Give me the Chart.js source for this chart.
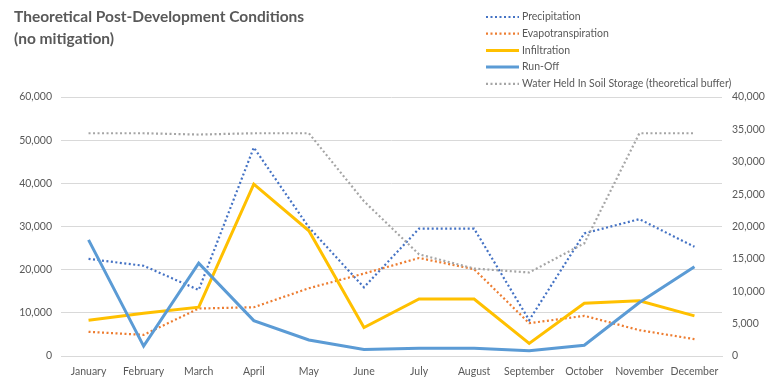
<!DOCTYPE html>
<html>
<head>
<meta charset="utf-8">
<script src="https://cdn.jsdelivr.net/npm/chart.js"></script>
<style>
  html, body { margin: 0; padding: 0; background: #fff; }
  #wrap { width: 769px; height: 378px; position: relative; }
</style>
</head>
<body>
<div id="wrap"><canvas id="myChart"></canvas></div>
<script>

    const months = ['January', 'February', 'March', 'April', 'May', 'June',
                    'July', 'August', 'September', 'October', 'November', 'December'];

    const precipitation      = [22500, 20900, 15300, 48300, 29800, 15900, 29500, 29500, 8300, 28400, 31700, 25300];
    const evapotranspiration = [5600, 4900, 11000, 11300, 15700, 19100, 22700, 20100, 7600, 9300, 6000, 3900];
    const infiltration       = [8300, 9900, 11300, 39800, 29000, 6600, 13200, 13200, 2900, 12200, 12800, 9300];
    const runOff             = [26900, 2300, 21500, 8200, 3700, 1500, 1800, 1800, 1200, 2500, 12400, 20700];
    // plotted against the right-hand axis
    const soilStorage        = [34400, 34400, 34200, 34400, 34400, 23900, 15700, 13500, 12900, 17400, 34400, 34400];

    const leftMax = 60000, leftStep = 10000;
    const rightMax = 40000, rightStep = 5000;

    const fontName = 'Lato, "Open Sans", sans-serif';
    const textGrey = '#595959';

    const dotted = [2, 2.5];

    const data = {
        labels: months,
        datasets: [
            { label: 'Precipitation', data: precipitation, borderColor: '#4472C4', borderWidth: 2.2, borderDash: dotted, yAxisID: 'y', order: 5 },
            { label: 'Evapotranspiration', data: evapotranspiration, borderColor: '#ED7D31', borderWidth: 2.2, borderDash: dotted, yAxisID: 'y', order: 4 },
            { label: 'Infiltration', data: infiltration, borderColor: '#FFC000', borderWidth: 3, yAxisID: 'y', order: 3 },
            { label: 'Run-Off', data: runOff, borderColor: '#5B9BD5', borderWidth: 3, yAxisID: 'y', order: 2 },
            { label: 'Water Held In Soil Storage (theoretical buffer)', data: soilStorage, borderColor: '#A5A5A5', borderWidth: 2.2, borderDash: dotted, yAxisID: 'y1', order: 1 }
        ]
    };

    // title and the stacked legend in the top corners
    const headings = {
        id: 'headings',
        afterDraw(chart) {
            const ctx = chart.ctx;
            ctx.save();
            ctx.fillStyle = textGrey;
            ctx.font = 'bold 15.5px ' + fontName;
            ctx.textAlign = 'left';
            ctx.textBaseline = 'middle';
            ctx.fillText('Theoretical Post-Development Conditions', 14, 17);
            ctx.fillText('(no mitigation)', 14, 39);

            ctx.font = '10.5px ' + fontName;
            chart.data.datasets.forEach((ds, i) => {
                const y = 17 + i * 16.7;
                ctx.beginPath();
                ctx.strokeStyle = ds.borderColor;
                ctx.lineWidth = ds.borderWidth;
                ctx.setLineDash(ds.borderDash || []);
                ctx.moveTo(486, y);
                ctx.lineTo(519, y);
                ctx.stroke();
                ctx.setLineDash([]);
                ctx.fillStyle = textGrey;
                ctx.fillText(ds.label, 522, y);
            });
            ctx.restore();
        }
    };

    const tickFont = { family: fontName, size: 10.5 };

    const config = {
        type: 'line',
        data,
        options: {
            responsive: true,
            maintainAspectRatio: false,
            animation: false,
            layout: { padding: { top: 97, left: 0, right: 0, bottom: 0 } },
            elements: {
                line: { tension: 0, borderCapStyle: 'butt', fill: false },
                point: { radius: 0, hoverRadius: 0 }
            },
            plugins: {
                legend: { display: false },
                title: { display: false },
                tooltip: { enabled: false }
            },
            scales: {
                x: {
                    offset: true,
                    grid: { display: false, drawTicks: false },
                    border: { display: true, color: '#D9D9D9' },
                    ticks: { color: textGrey, font: tickFont, padding: 9, maxRotation: 0, autoSkip: false },
                    afterFit(scale) { scale.height = 22; }
                },
                y: {
                    position: 'left',
                    min: 0,
                    max: leftMax,
                    grid: { color: '#D9D9D9', drawTicks: false },
                    border: { display: false },
                    ticks: { stepSize: leftStep, color: textGrey, font: tickFont, padding: 9 },
                    afterFit(scale) { scale.width = 61; }
                },
                y1: {
                    position: 'right',
                    min: 0,
                    max: rightMax,
                    grid: { display: false, drawTicks: false },
                    border: { display: false },
                    ticks: { stepSize: rightStep, color: textGrey, font: tickFont, padding: 10 },
                    afterFit(scale) { scale.width = 47; }
                }
            }
        },
        plugins: [headings]
    };

    const myChart = new Chart(document.getElementById('myChart'), config);
</script>
</body>
</html>
